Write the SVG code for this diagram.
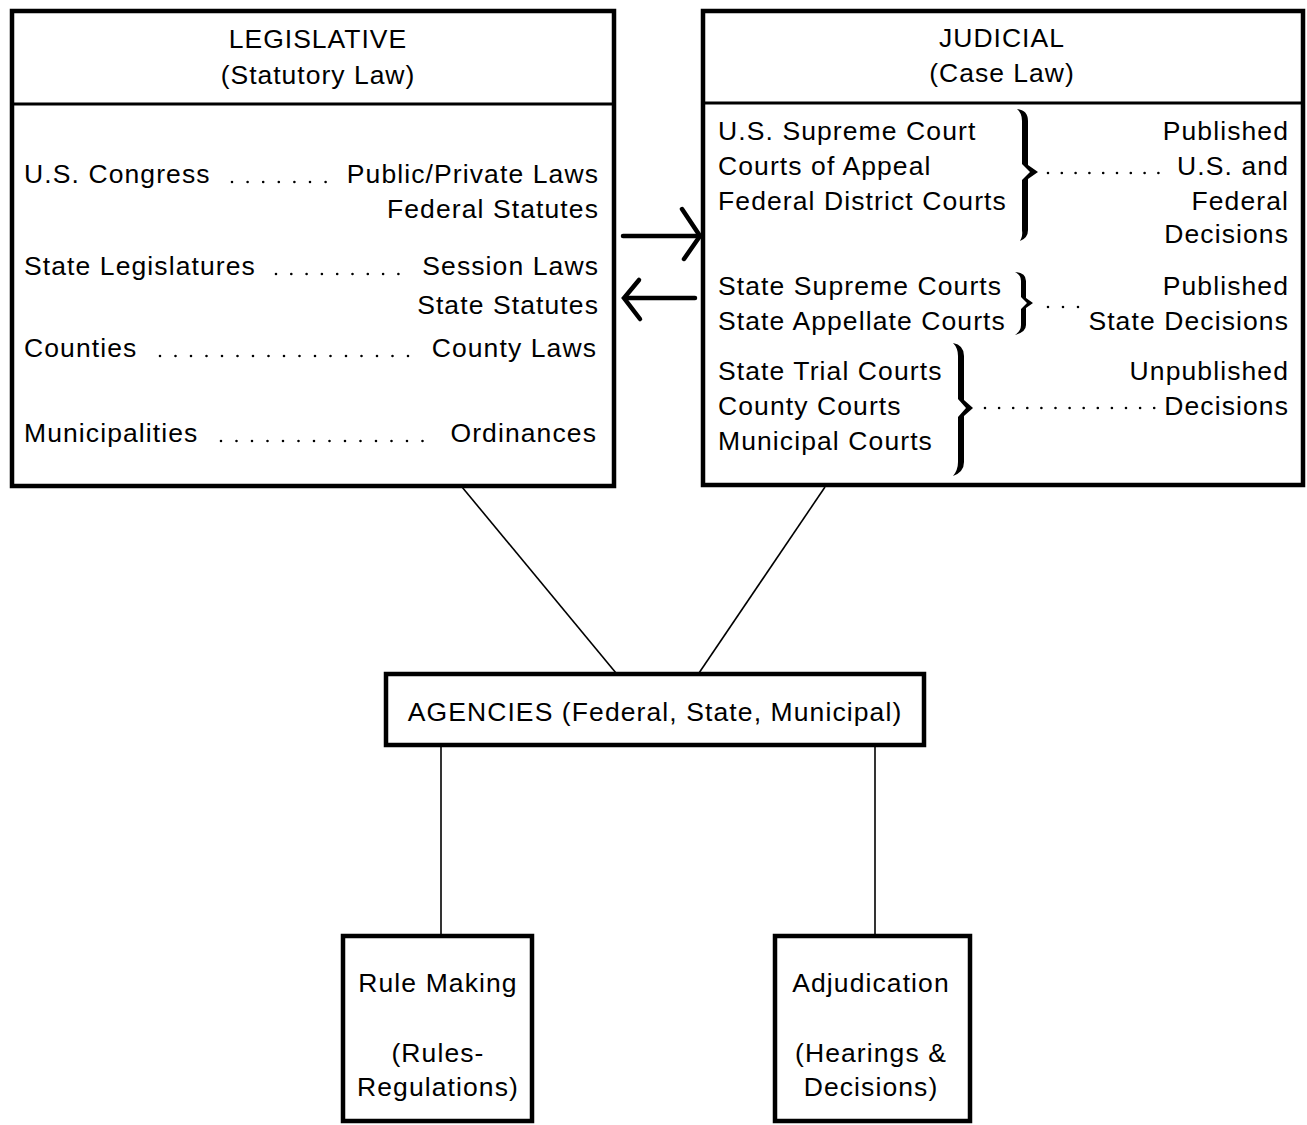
<svg xmlns="http://www.w3.org/2000/svg" width="1307" height="1125" viewBox="0 0 1307 1125">
<style>
text{font-family:"Liberation Sans",Arial,sans-serif;font-size:26.5px;fill:#000;letter-spacing:1.1px}
.h{letter-spacing:1px}
.c{text-anchor:middle}
.r{text-anchor:end}
.box{fill:#fff;stroke:#000;stroke-width:4.5}
.div{stroke:#000;stroke-width:3}
.dots{fill:none;stroke:#000;stroke-width:2.6;stroke-linecap:round}
.link{fill:none;stroke:#000;stroke-width:1.6}
.arr{fill:none;stroke:#000;stroke-width:4.5;stroke-linecap:round;stroke-linejoin:miter}
.brace{fill:#000}
</style>
<rect width="1307" height="1125" fill="#fff"/>
<g id="connectors">
<line class="link" x1="462" y1="487" x2="616" y2="673"/>
<line class="link" x1="825" y1="487" x2="699" y2="673"/>
<line class="link" x1="441" y1="746" x2="441" y2="935"/>
<line class="link" x1="875" y1="746" x2="875" y2="935"/>
<path class="arr" d="M623,236 H697"/>
<path class="arr" d="M682,209 L700,236 L684,259"/>
<path class="arr" d="M627,298 H695"/>
<path class="arr" d="M639,280 L624,298 L640,319"/>
</g>
<g id="legislative">
<rect class="box" x="12" y="11" width="602" height="475"/>
<line class="div" x1="12" y1="104" x2="614" y2="104"/>
<text class="c h" x="318" y="48">LEGISLATIVE</text>
<text class="c h" x="318" y="84">(Statutory Law)</text>
<text x="24" y="183">U.S. Congress</text>
<path class="dots" stroke-dasharray="0 15.6" d="M232,182 H329"/>
<text class="r" x="599" y="183">Public/Private Laws</text>
<text class="r" x="599" y="218">Federal Statutes</text>
<text x="24" y="275">State Legislatures</text>
<path class="dots" stroke-dasharray="0 15.3" d="M276,274 H400"/>
<text class="r" x="599" y="275">Session Laws</text>
<text class="r" x="599" y="314">State Statutes</text>
<text x="24" y="357">Counties</text>
<path class="dots" stroke-dasharray="0 15.5" d="M160,356 H410"/>
<text class="r" x="597" y="357">County Laws</text>
<text x="24" y="442">Municipalities</text>
<path class="dots" stroke-dasharray="0 15.5" d="M221,441 H425"/>
<text class="r" x="597" y="442">Ordinances</text>
</g>
<g id="judicial">
<rect class="box" x="703" y="11" width="600" height="474"/>
<line class="div" x1="703" y1="103" x2="1303" y2="103"/>
<text class="c h" x="1002" y="47">JUDICIAL</text>
<text class="c h" x="1002" y="82">(Case Law)</text>
<text x="718" y="140">U.S. Supreme Court</text>
<text x="718" y="175">Courts of Appeal</text>
<text x="718" y="210">Federal District Courts</text>
<path class="brace" d="M1017,109 Q1028,110 1028,121 L1028,165 L1038,172 L1028,179 L1028,230 Q1028,238 1020,241 Q1023,236 1022,230 L1022,180 L1030,172 L1022,164 L1022,121 Q1022,113 1017,109 Z"/>
<path class="dots" stroke-dasharray="0 13.8" d="M1048,173 H1160"/>
<text class="r" x="1289" y="140">Published</text>
<text class="r" x="1289" y="175">U.S. and</text>
<text class="r" x="1289" y="210">Federal</text>
<text class="r" x="1289" y="243">Decisions</text>
<text x="718" y="295">State Supreme Courts</text>
<text x="718" y="330">State Appellate Courts</text>
<path class="brace" d="M1015,272 Q1026,273 1026,281 L1026,298 L1033,303 L1026,308 L1026,325 Q1026,332 1015,335 Q1021,331 1021,325 L1021,309 L1027,303 L1021,297 L1021,281 Q1021,275 1015,272 Z"/>
<path class="dots" stroke-dasharray="0 15" d="M1048,307 H1080"/>
<text class="r" x="1289" y="295">Published</text>
<text class="r" x="1289" y="330">State Decisions</text>
<text x="718" y="380">State Trial Courts</text>
<text x="718" y="415">County Courts</text>
<text x="718" y="450">Municipal Courts</text>
<path class="brace" d="M953,343 Q964,345 964,356 L964,400 L973,408 L964,416 L964,462 Q964,472 953,476 Q958,470 958,462 L958,417 L966,408 L958,399 L958,356 Q958,348 953,343 Z"/>
<path class="dots" stroke-dasharray="0 14.1" d="M985,408 H1156"/>
<text class="r" x="1289" y="380">Unpublished</text>
<text class="r" x="1289" y="415">Decisions</text>
</g>
<g id="agencies">
<rect class="box" x="386" y="674" width="538" height="71" stroke-width="5"/>
<text class="c" x="655" y="721">AGENCIES (Federal, State, Municipal)</text>
</g>
<g id="rulemaking">
<rect class="box" x="343" y="936" width="189" height="185"/>
<text class="c" x="438" y="992">Rule Making</text>
<text class="c" x="438" y="1062">(Rules-</text>
<text class="c" x="438" y="1096">Regulations)</text>
</g>
<g id="adjudication">
<rect class="box" x="775" y="936" width="195" height="185"/>
<text class="c" x="871" y="992">Adjudication</text>
<text class="c" x="871" y="1062">(Hearings &amp;</text>
<text class="c" x="871" y="1096">Decisions)</text>
</g>
</svg>
